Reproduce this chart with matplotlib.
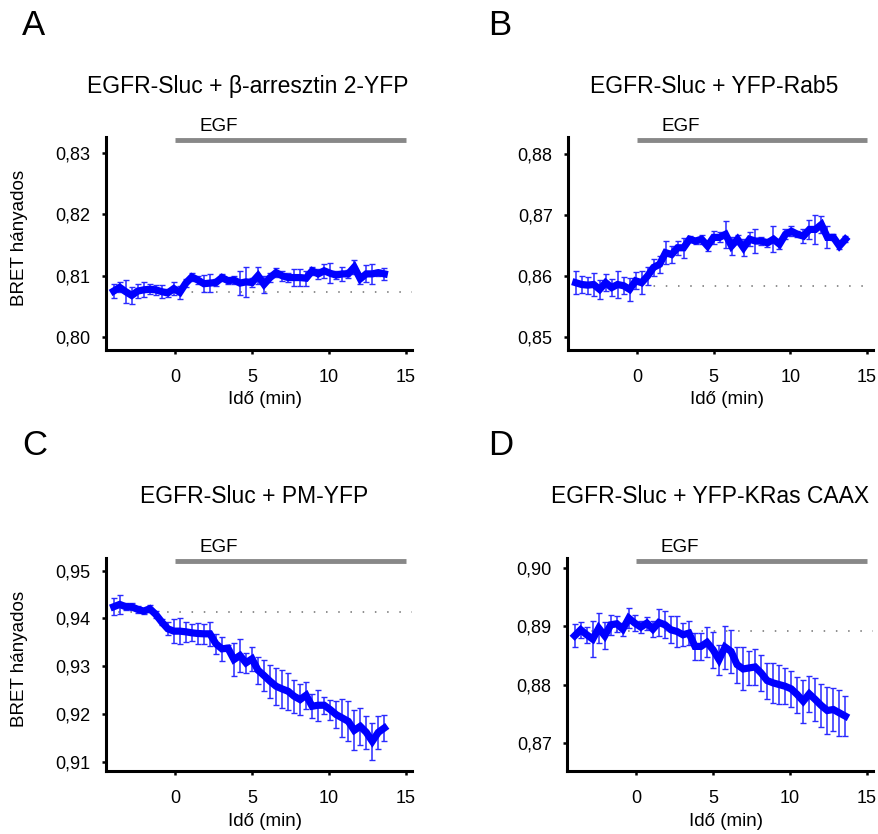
import numpy as np
import matplotlib
matplotlib.use("Agg")
import matplotlib.pyplot as plt
from matplotlib.ticker import FixedLocator

plt.rcParams['font.family'] = ['Liberation Sans', 'DejaVu Sans']

# ---------------- data ----------------
time_min = np.linspace(-4.0, 13.6, 46)

titles = ["EGFR-Sluc + \u03b2-arresztin 2-YFP", "EGFR-Sluc + YFP-Rab5",
          "EGFR-Sluc + PM-YFP", "EGFR-Sluc + YFP-KRas CAAX"]
letters = ["A", "B", "C", "D"]

a_mean = [0.8075, 0.8081, 0.8074, 0.8068, 0.8075, 0.8077, 0.8078, 0.8077, 0.8074, 0.8072,
          0.8079, 0.8073, 0.8088, 0.8098, 0.8093, 0.8087, 0.8088, 0.8089, 0.8097, 0.8092,
          0.8093, 0.8088, 0.8090, 0.8089, 0.8100, 0.8086, 0.8097, 0.8105, 0.8100, 0.8097,
          0.8097, 0.8097, 0.8096, 0.8108, 0.8103, 0.8108, 0.8104, 0.8101, 0.8103, 0.8103,
          0.8114, 0.8095, 0.8103, 0.8103, 0.8105, 0.8103]
a_err = [0.0012, 0.0008, 0.0019, 0.0014, 0.0012, 0.0012, 0.0008, 0.0008, 0.0011, 0.0007,
         0.0011, 0.0011, 0.0007, 0.0007, 0.0007, 0.0014, 0.0014, 0.0005, 0.0005, 0.0005,
         0.0007, 0.0019, 0.0024, 0.0008, 0.0014, 0.0014, 0.0008, 0.0007, 0.0008, 0.0008,
         0.0014, 0.0014, 0.0012, 0.0007, 0.0008, 0.0011, 0.0016, 0.0007, 0.0012, 0.0007,
         0.0011, 0.0008, 0.0014, 0.0016, 0.0005, 0.0010]

b_mean = [0.8589, 0.8586, 0.8585, 0.8586, 0.8578, 0.8589, 0.8581, 0.8586, 0.8584, 0.8578,
          0.8592, 0.8589, 0.8600, 0.8614, 0.8619, 0.8638, 0.8635, 0.8646, 0.8646, 0.8660,
          0.8657, 0.8660, 0.8649, 0.8663, 0.8663, 0.8668, 0.8649, 0.8660, 0.8646, 0.8660,
          0.8657, 0.8657, 0.8654, 0.8660, 0.8652, 0.8668, 0.8673, 0.8668, 0.8665, 0.8676,
          0.8676, 0.8684, 0.8663, 0.8663, 0.8649, 0.8660]
b_err = [0.0019, 0.0014, 0.0014, 0.0019, 0.0016, 0.0014, 0.0014, 0.0022, 0.0014, 0.0019,
         0.0014, 0.0019, 0.0014, 0.0014, 0.0014, 0.0019, 0.0014, 0.0011, 0.0016, 0.0005,
         0.0005, 0.0007, 0.0008, 0.0011, 0.0008, 0.0022, 0.0014, 0.0007, 0.0014, 0.0011,
         0.0019, 0.0007, 0.0007, 0.0021, 0.0008, 0.0008, 0.0008, 0.0005, 0.0011, 0.0016,
         0.0024, 0.0014, 0.0018, 0.0005, 0.0005, 0.0005]

c_mean = [0.94245, 0.94294, 0.94245, 0.94245, 0.94189, 0.94154, 0.94203, 0.94084, 0.93923, 0.93783,
          0.93734, 0.93734, 0.93720, 0.93699, 0.93685, 0.93678, 0.93678, 0.93469, 0.93364, 0.93378,
          0.93140, 0.93224, 0.93070, 0.93154, 0.92916, 0.92804, 0.92685, 0.92580, 0.92524, 0.92476,
          0.92371, 0.92301, 0.92392, 0.92161, 0.92182, 0.92182, 0.92091, 0.91986, 0.91916, 0.91846,
          0.91657, 0.91741, 0.91615, 0.91427, 0.91615, 0.91706]
c_err = [0.0018, 0.0020, 0.0007, 0.0007, 0.0007, 0.0007, 0.0007, 0.0007, 0.0007, 0.0014,
         0.0025, 0.0027, 0.0021, 0.0018, 0.0021, 0.0021, 0.0025, 0.0021, 0.0025, 0.0007,
         0.0035, 0.0034, 0.0021, 0.0025, 0.0028, 0.0032, 0.0035, 0.0039, 0.0039, 0.0039,
         0.0035, 0.0032, 0.0028, 0.0025, 0.0032, 0.0018, 0.0021, 0.0028, 0.0039, 0.0042,
         0.0042, 0.0039, 0.0034, 0.0039, 0.0035, 0.0028]

d_mean = [0.88840, 0.88943, 0.88857, 0.88783, 0.88971, 0.88840, 0.89029, 0.89046, 0.88954, 0.89143,
          0.89057, 0.88989, 0.89057, 0.88954, 0.89069, 0.89029, 0.88943, 0.88914, 0.88857, 0.88886,
          0.88657, 0.88657, 0.88726, 0.88600, 0.88429, 0.88646, 0.88571, 0.88343, 0.88269, 0.88286,
          0.88303, 0.88200, 0.88069, 0.88029, 0.88000, 0.87971, 0.87926, 0.87829, 0.87714, 0.87840,
          0.87743, 0.87640, 0.87554, 0.87571, 0.87514, 0.87457]
d_err = [0.0020, 0.0014, 0.0014, 0.0031, 0.0026, 0.0023, 0.0017, 0.0014, 0.0011, 0.0017,
         0.0014, 0.0011, 0.0011, 0.0014, 0.0023, 0.0023, 0.0023, 0.0026, 0.0020, 0.0020,
         0.0023, 0.0023, 0.0026, 0.0031, 0.0026, 0.0037, 0.0037, 0.0031, 0.0037, 0.0029,
         0.0031, 0.0031, 0.0031, 0.0034, 0.0034, 0.0031, 0.0031, 0.0031, 0.0037, 0.0031,
         0.0037, 0.0037, 0.0040, 0.0037, 0.0040, 0.0034]

baselines = [0.8074, 0.8584, 0.9413, 0.8893]

yticks = [[0.80, 0.81, 0.82, 0.83], [0.85, 0.86, 0.87, 0.88],
          [0.91, 0.92, 0.93, 0.94, 0.95], [0.87, 0.88, 0.89, 0.90]]
ytick_labels = [["0,80", "0,81", "0,82", "0,83"], ["0,85", "0,86", "0,87", "0,88"],
                ["0,91", "0,92", "0,93", "0,94", "0,95"], ["0,87", "0,88", "0,89", "0,90"]]
xticks = [0, 5, 10, 15]
xtick_labels = ["0", "5", "10", "15"]
ylims = [(0.7979, 0.8326), (0.8479, 0.8827), (0.90805, 0.95266), (0.86513, 0.90178)]

egf_start, egf_end = 0.0, 15.0

means = [a_mean, b_mean, c_mean, d_mean]
errs = [a_err, b_err, c_err, d_err]

# ---------------- layout ----------------
W, H = 879, 834
fig = plt.figure(figsize=(W / 100, H / 100), dpi=100)

def fx(px):
    return px / W

def fy(py):
    return 1 - py / H

axes_px = [(106, 412, 137, 350), (568, 873, 137, 350),
           (106, 412, 558, 771), (567, 873, 558, 771)]
title_pos = [(248, 93), (714, 93), (254, 503), (710, 503)]
letter_pos = [(22, 35), (488, 35), (22, 455), (488, 455)]

blue = '#0000ff'

for i in range(4):
    l, r, t, b = axes_px[i]
    ax = fig.add_axes([fx(l), fy(b), fx(r - l), (b - t) / H])
    ax.set_xlim(-4.5, 15.4)
    ax.set_ylim(*ylims[i])

    ax.plot([-4.5, 15.4], [baselines[i]] * 2, color='#707070', lw=1.1,
            linestyle=(0, (1, 7)), zorder=1)
    ax.errorbar(time_min, means[i], yerr=errs[i], fmt='none', ecolor='#2a2aff',
                elinewidth=1.1, capsize=2.2, capthick=1.0, zorder=2)
    ax.plot(time_min, means[i], color=blue, lw=5.2, solid_joinstyle='miter', zorder=3)

    # EGF bar
    trans = ax.get_xaxis_transform()
    ax.plot([egf_start, egf_end], [0.985, 0.985], color='#888888', lw=3.5,
            transform=trans, clip_on=False, solid_capstyle='butt')
    ax.text(1.6, 1.03, "EGF", transform=trans, fontsize=13.5, ha='left', va='baseline')

    for s in ['top', 'right']:
        ax.spines[s].set_visible(False)
    for s in ['left', 'bottom']:
        ax.spines[s].set_linewidth(2.2)
    ax.xaxis.set_major_locator(FixedLocator(xticks))
    ax.set_xticklabels(xtick_labels)
    ax.yaxis.set_major_locator(FixedLocator(yticks[i]))
    ax.set_yticklabels(ytick_labels[i])
    ax.tick_params(axis='both', direction='out', length=3, width=1.8, labelsize=13)
    ax.tick_params(axis='x', pad=11)
    ax.tick_params(axis='y', pad=8)

    fig.text(fx(title_pos[i][0]), fy(title_pos[i][1]), titles[i], fontsize=16.5,
             ha='center', va='baseline')
    fig.text(fx(letter_pos[i][0]), fy(letter_pos[i][1]), letters[i], fontsize=25,
             ha='left', va='baseline')
    fig.text(fx((l + r) / 2 + 6), fy(b + 50), "Id\u0151 (min)", fontsize=13.5,
             ha='center', va='center')
    if i in (0, 2):
        fig.text(fx(20), fy((t + b) / 2 - 6), "BRET h\u00e1nyados", fontsize=13.5,
                 ha='center', va='center', rotation=90)

fig.savefig("out.png", dpi=100)
